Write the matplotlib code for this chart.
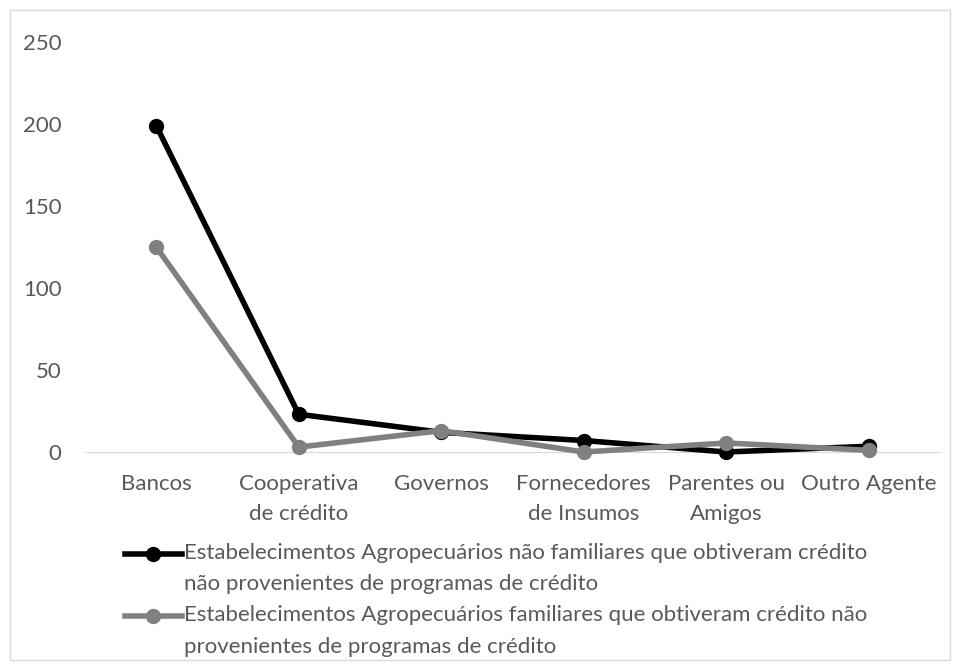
import matplotlib.pyplot as plt
from matplotlib.patches import Rectangle
from matplotlib.legend_handler import HandlerLine2D

plt.rcParams['font.family'] = ['Lato', 'DejaVu Sans']

categorias = ["Bancos", "Cooperativa\nde crédito", "Governos", "Fornecedores\nde Insumos",
              "Parentes ou\nAmigos", "Outro Agente"]
nao_familiares = [199, 23, 12, 7, 0, 3.5]
familiares = [125, 3, 13, 0, 5.5, 1]
rotulo_nf = "Estabelecimentos Agropecuários não familiares que obtiveram crédito\nnão provenientes de programas de crédito"
rotulo_f = "Estabelecimentos Agropecuários familiares que obtiveram crédito não\nprovenientes de programas de crédito"

txt = "#595959"
fs = 16


# legend handle sits on the first text line, like in excel
class HandlerFirstLine(HandlerLine2D):
    def create_artists(self, legend, orig_handle, xdescent, ydescent, width, height, fontsize, trans):
        arts = super().create_artists(legend, orig_handle, xdescent, ydescent, width, height, fontsize, trans)
        for a in arts:
            a.set_ydata([y + 0.68 * fontsize for y in a.get_ydata()])
        return arts


fig = plt.figure(figsize=(9.56, 6.68), dpi=100)
fig.patches.append(Rectangle((10/956, 8/668), 940/956, 650/668, transform=fig.transFigure,
                             fill=False, edgecolor="#d9d9d9", linewidth=1))
ax = fig.add_axes([85/956, (668-452)/668, (940-85)/956, (452-42)/668])

x = range(len(categorias))
ax.plot(x, nao_familiares, color="black", linewidth=4, marker="o", markersize=10, label=rotulo_nf)
ax.plot(x, familiares, color="#808080", linewidth=4, marker="o", markersize=10, label=rotulo_f)

ax.set_xlim(-0.5, len(categorias) - 0.5)
ax.set_ylim(0, 250)
ax.set_yticks([0, 50, 100, 150, 200, 250])
ax.set_xticks(list(x))
ax.set_xticklabels(categorias, linespacing=1.6)
ax.tick_params(axis="both", length=0, labelsize=fs, colors=txt)
ax.tick_params(axis="x", pad=16)
ax.tick_params(axis="y", pad=17)
for s in ["top", "right", "left"]:
    ax.spines[s].set_visible(False)
ax.spines["bottom"].set_color("#d9d9d9")
ax.spines["bottom"].set_zorder(0)
for l in ax.lines:
    l.set_clip_on(False)

leg = fig.legend(loc="upper left", bbox_to_anchor=(125/956, (668-543)/668), frameon=False,
                 fontsize=fs, handlelength=2.55, handletextpad=0.1, labelspacing=0.5,
                 borderaxespad=0, borderpad=0,
                 handler_map={plt.Line2D: HandlerFirstLine()})
for t in leg.get_texts():
    t.set_color(txt)
    t.set_linespacing(1.7)

fig.savefig("out.png", dpi=100)
